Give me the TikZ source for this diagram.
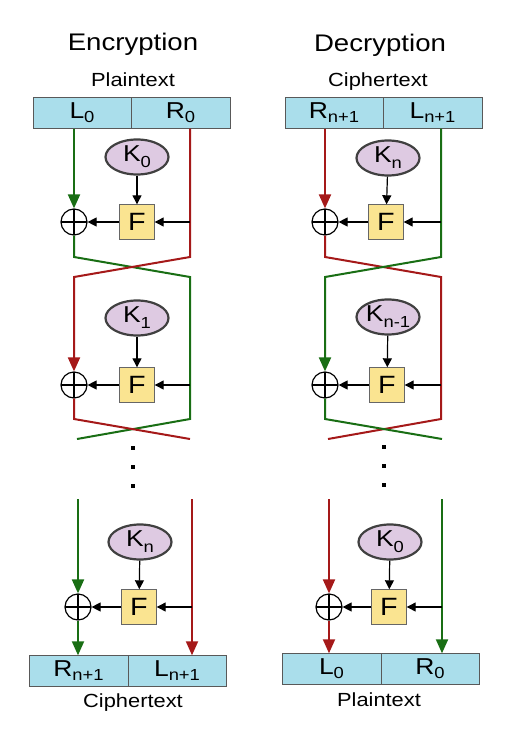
\documentclass[tikz,border=0pt]{standalone}
\usepackage{fontspec}
\setmainfont{Liberation Sans}[FakeStretch=1.15]
\usetikzlibrary{calc,shapes.geometric,arrows.meta}

\definecolor{halfblue}{RGB}{170,222,235}
\definecolor{keypink}{RGB}{222,202,226}
\definecolor{fyellow}{RGB}{250,228,145}
\definecolor{railgreen}{RGB}{25,110,20}
\definecolor{railred}{RGB}{165,25,25}

\newcommand{\boxsub}[2]{#1\raisebox{-4pt}{\fontsize{16}{16}\selectfont #2}}
\newcommand{\keysub}[2]{#1\raisebox{-6pt}{\fontsize{16}{16}\selectfont #2}}

\begin{document}
\begin{tikzpicture}[x=1pt,y=-1pt,
    heading/.style={font=\fontsize{24}{28}\selectfont},
    caption/.style={font=\fontsize{19}{22}\selectfont},
    half/.style={draw=black!65,fill=halfblue,minimum height=31,inner sep=0,
      font=\fontsize{23}{24}\selectfont},
    key/.style={ellipse,draw=black!75,line width=2.2,fill=keypink,
      minimum width=63,minimum height=35,inner sep=0,font=\fontsize{23}{24}\selectfont},
    fbox/.style={draw=black!60,fill=fyellow,minimum size=35,inner sep=0,
      font=\fontsize{25}{25}\selectfont},
    xor/.style={circle,draw,line width=1.2,minimum size=26,inner sep=0,
      path picture={\draw[line width=1.2]
        (path picture bounding box.north) -- (path picture bounding box.south)
        (path picture bounding box.west) -- (path picture bounding box.east);}},
    dotsq/.style={fill=black,minimum size=4.5,inner sep=0},
    blk/.style={-{Triangle[width=9pt,length=9pt]},line width=1.2},
    grn/.style={draw=railgreen,line width=2},
    rd/.style={draw=railred,line width=2},
    tip/.style={-{Triangle[width=12pt,length=14pt]}}]
    \useasboundingbox (0,0) rectangle (511,747);

    % encryption: input
    \node[heading] (enctitle) at (133,44) {Encryption};
    \node[caption] (encin) at (133,80) {Plaintext};
    \node[half,minimum width=98] (el0) at (82,113) {\boxsub{L}{0}};
    \node[half,minimum width=99] (er0) at (180.5,113) {\boxsub{R}{0}};

    % encryption: first round
    \node[key] (ek0) at (137,157) {\keysub{K}{0}};
    \node[fbox] (ef1) at (137,222) {F};
    \node[xor] (ex1) at (74,222) {};
    \coordinate (ec1a) at (74,257);
    \coordinate (ec1b) at (190,257);
    \coordinate (ec1c) at (74,277);
    \coordinate (ec1d) at (190,277);

    % encryption: second round
    \node[key] (ek1) at (137,318) {\keysub{K}{1}};
    \node[fbox] (ef2) at (137,385) {F};
    \node[xor] (ex2) at (74,385) {};
    \coordinate (ec2a) at (74,419);
    \coordinate (ec2b) at (190,419);
    \coordinate (ec2c) at (77,439);
    \coordinate (ec2d) at (190,439);

    \draw[grn,tip] (el0.south -| ex1) -- (ex1.north);
    \draw[grn] (ex1.south) -- (ec1a) -- (ec1d) -- (ec2b) -- (ec2c);
    \draw[rd,tip] (er0.south -| ec1b) -- (ec1b) -- (ec1c) -- (ex2.north);
    \draw[rd] (ex2.south) -- (ec2a) -- (ec2d);

    \draw[blk] (ek0) -- (ef1);
    \draw[blk] (ef1 -| ec1b) -- (ef1);
    \draw[blk] (ef1) -- (ex1);
    \draw[blk] (ek1) -- (ef2);
    \draw[blk] (ef2 -| ec1d) -- (ef2);
    \draw[blk] (ef2) -- (ex2);

    \node[dotsq] (ed1) at (133,448) {};
    \node[dotsq] (ed2) at (133,467) {};
    \node[dotsq] (ed3) at (133,486) {};

    % encryption: last round
    \coordinate (eb1) at (78,499);
    \coordinate (eb2) at (192,499);
    \node[key] (ekn) at (140,542) {\keysub{K}{n}};
    \node[fbox] (ef3) at (139,607) {F};
    \node[xor] (ex3) at (78,607) {};
    \node[half,minimum width=99] (eln) at (78.5,671) {\boxsub{R}{n+1}};
    \node[half,minimum width=98] (ern) at (177,671) {\boxsub{L}{n+1}};
    \node[caption] (encout) at (133,703) {Ciphertext};

    \draw[grn,tip] (eb1) -- (ex3.north);
    \draw[grn,tip] (ex3.south) -- (ex3 |- eln.north);
    \draw[rd,tip] (eb2) -- (eb2 |- ern.north);
    \draw[blk] (ekn) -- (ef3);
    \draw[blk] (ef3 -| eb2) -- (ef3);
    \draw[blk] (ef3) -- (ex3);

    % decryption: input
    \node[heading] (dectitle) at (380,45) {Decryption};
    \node[caption] (decin) at (378,82) {Ciphertext};
    \node[half,minimum width=98] (dl0) at (334,113) {\boxsub{R}{n+1}};
    \node[half,minimum width=99] (dr0) at (432.5,113) {\boxsub{L}{n+1}};

    % decryption: first round
    \node[key] (dk0) at (388,158) {\keysub{K}{n}};
    \node[fbox] (df1) at (386,222) {F};
    \node[xor] (dx1) at (325,222) {};
    \coordinate (dc1a) at (325,257);
    \coordinate (dc1b) at (441,257);
    \coordinate (dc1c) at (325,277);
    \coordinate (dc1d) at (441,277);

    % decryption: second round
    \node[key] (dk1) at (388,317) {\keysub{K}{n-1}};
    \node[fbox] (df2) at (387,385) {F};
    \node[xor] (dx2) at (325,385) {};
    \coordinate (dc2a) at (325,419);
    \coordinate (dc2b) at (441,419);
    \coordinate (dc2c) at (328,439);
    \coordinate (dc2d) at (442,439);

    \draw[rd,tip] (dl0.south -| dx1) -- (dx1.north);
    \draw[rd] (dx1.south) -- (dc1a) -- (dc1d) -- (dc2b) -- (dc2c);
    \draw[grn,tip] (dr0.south -| dc1b) -- (dc1b) -- (dc1c) -- (dx2.north);
    \draw[grn] (dx2.south) -- (dc2a) -- (dc2d);

    \draw[blk] (dk0) -- (df1);
    \draw[blk] (df1 -| dc1b) -- (df1);
    \draw[blk] (df1) -- (dx1);
    \draw[blk] (dk1) -- (df2);
    \draw[blk] (df2 -| dc1d) -- (df2);
    \draw[blk] (df2) -- (dx2);

    \node[dotsq] (dd1) at (384,447) {};
    \node[dotsq] (dd2) at (384,466) {};
    \node[dotsq] (dd3) at (384,485) {};

    % decryption: last round
    \coordinate (db1) at (329,499);
    \coordinate (db2) at (442,499);
    \node[key] (dkn) at (390,542) {\keysub{K}{0}};
    \node[fbox] (df3) at (389,607) {F};
    \node[xor] (dx3) at (329,607) {};
    \node[half,minimum width=99] (dln) at (331.5,669) {\boxsub{L}{0}};
    \node[half,minimum width=98] (drn) at (430,669) {\boxsub{R}{0}};
    \node[caption] (decout) at (379,700) {Plaintext};

    \draw[rd,tip] (db1) -- (dx3.north);
    \draw[rd,tip] (dx3.south) -- (dx3 |- dln.north);
    \draw[grn,tip] (db2) -- (db2 |- drn.north);
    \draw[blk] (dkn) -- (df3);
    \draw[blk] (df3 -| db2) -- (df3);
    \draw[blk] (df3) -- (dx3);
\end{tikzpicture}
\end{document}
